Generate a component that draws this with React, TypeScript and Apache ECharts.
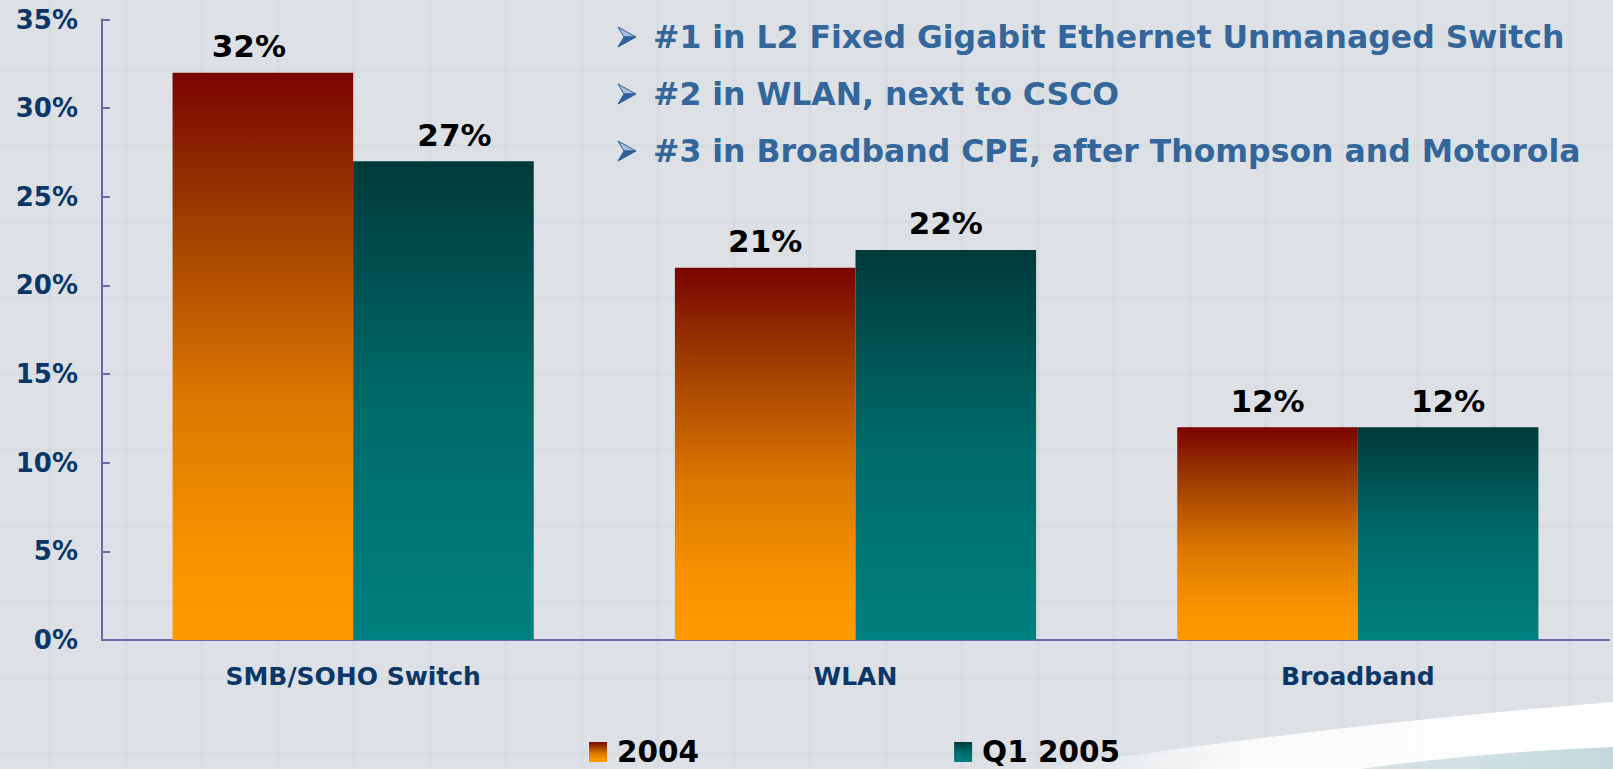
import React, { useEffect, useRef } from "react";
import * as echarts from "echarts";

const categories = ["SMB/SOHO Switch", "WLAN", "Broadband"];
const share2004 = [32, 21, 12];
const shareQ12005 = [27, 22, 12];
const seriesNames = ["2004", "Q1 2005"];
const notes = [
  "#1 in L2 Fixed Gigabit Ethernet Unmanaged Switch",
  "#2 in WLAN, next to CSCO",
  "#3 in Broadband CPE, after Thompson and Motorola",
];

const FONT = '"DejaVu Sans", Verdana, sans-serif';

echarts.graphic.registerShape(
  "swooshWhite",
  echarts.graphic.extendPath("M1040 769 Q1300 728 1613 702 L1613 747 Q1480 752 1360 769 Z", {})
);
echarts.graphic.registerShape(
  "swooshBlue",
  echarts.graphic.extendPath("M1360 769 Q1480 752 1613 747 L1613 769 Z", {})
);

function buildGraphic() {
  const els: any[] = [];
  for (let x = -26; x < 1613; x += 76) {
    els.push({
      type: "line",
      silent: true,
      z: -10,
      shape: { x1: x, y1: 0, x2: x, y2: 769 },
      style: { stroke: "rgba(110,120,130,0.05)", lineWidth: 3 },
    });
  }
  for (let y = -6; y < 769; y += 76) {
    els.push({
      type: "line",
      silent: true,
      z: -10,
      shape: { x1: 0, y1: y, x2: 1613, y2: y },
      style: { stroke: "rgba(110,120,130,0.045)", lineWidth: 3 },
    });
  }
  els.push({
    type: "swooshBlue",
    silent: true,
    z: -5,
    style: {
      fill: {
        type: "linear",
        x: 0,
        y: 0,
        x2: 1,
        y2: 0,
        colorStops: [
          { offset: 0, color: "rgba(205,222,226,0.3)" },
          { offset: 0.5, color: "#cfe0e4" },
          { offset: 1, color: "#c4d9de" },
        ],
      },
    },
  });
  els.push({
    type: "swooshWhite",
    silent: true,
    z: -5,
    style: {
      fill: {
        type: "linear",
        x: 0,
        y: 0,
        x2: 1,
        y2: 0,
        colorStops: [
          { offset: 0, color: "rgba(255,255,255,0)" },
          { offset: 0.35, color: "rgba(255,255,255,0.85)" },
          { offset: 1, color: "#ffffff" },
        ],
      },
    },
  });
  const lineY = [37, 94, 151];
  notes.forEach((t, i) => {
    const cy = lineY[i];
    els.push({
      type: "polygon",
      silent: true,
      shape: { points: [[618, cy - 10], [636, cy], [624, cy]] },
      style: { fill: "#a8bedb", stroke: "#2f5f98", lineWidth: 1 },
    });
    els.push({
      type: "polygon",
      silent: true,
      shape: { points: [[624, cy], [636, cy], [618, cy + 10]] },
      style: { fill: "#2f5f98", stroke: "#2f5f98", lineWidth: 1 },
    });
    els.push({
      type: "text",
      silent: true,
      x: 653,
      y: cy,
      style: {
        text: t,
        fontFamily: FONT,
        fontWeight: "bold",
        fontSize: 31.5,
        fill: "#33669a",
        verticalAlign: "middle",
        align: "left",
      },
    });
  });
  return els;
}

const grad2004 = new echarts.graphic.LinearGradient(0, 0, 0, 1, [
  { offset: 0, color: "#7a0300" },
  { offset: 0.22, color: "#993600" },
  { offset: 0.58, color: "#dd7800" },
  { offset: 0.85, color: "#f89400" },
  { offset: 1, color: "#ff9a00" },
]);
const gradQ1 = new echarts.graphic.LinearGradient(0, 0, 0, 1, [
  { offset: 0, color: "#003a3a" },
  { offset: 0.5, color: "#006a6a" },
  { offset: 1, color: "#008080" },
]);

const barLabel = {
  show: true,
  position: "top",
  distance: 11,
  formatter: "{c}%",
  fontFamily: FONT,
  fontWeight: "bold",
  fontSize: 31,
  color: "#000",
};

export default function App() {
  const ref = useRef<HTMLDivElement>(null);
  useEffect(() => {
    if (!ref.current) return;
    const chart = echarts.init(ref.current, undefined, { renderer: "svg" });
    const axisColor = "#6c68a8";
    const labelColor = "#0b3768";
    const data2004 = share2004.map((v, i) => (i === 0 ? { value: v, label: { offset: [-14, 0] } } : v));
    const dataQ1 = shareQ12005.map((v, i) => (i === 0 ? { value: v, label: { offset: [11, 0] } } : v));
    chart.setOption({
      animation: false,
      backgroundColor: "#dde1e5",
      textStyle: { fontFamily: FONT },
      grid: {
        left: 102,
        right: 4,
        top: 19.5,
        bottom: 129,
        containLabel: false,
        outerBoundsMode: "none",
      },
      legend: {
        left: 589,
        top: 737,
        padding: 0,
        itemWidth: 18,
        itemHeight: 20,
        itemGap: 255,
        icon: "rect",
        data: seriesNames,
        textStyle: {
          fontFamily: FONT,
          fontWeight: "bold",
          fontSize: 29.5,
          lineHeight: 30,
          color: "#000",
          padding: [0, 0, 0, 5],
        },
      },
      xAxis: {
        type: "category",
        data: categories,
        axisLine: { lineStyle: { color: axisColor, width: 2 } },
        axisTick: { inside: true, length: 8, lineStyle: { color: axisColor, width: 2 } },
        axisLabel: {
          margin: 24,
          fontFamily: FONT,
          fontWeight: "bold",
          fontSize: 25,
          color: labelColor,
        },
        splitLine: { show: false },
      },
      yAxis: {
        type: "value",
        min: 0,
        max: 35,
        interval: 5,
        axisLine: { show: true, lineStyle: { color: axisColor, width: 2 } },
        axisTick: { show: true, inside: true, length: 8, lineStyle: { color: axisColor, width: 2 } },
        axisLabel: {
          margin: 24,
          formatter: "{value}%",
          fontFamily: FONT,
          fontWeight: "bold",
          fontSize: 26,
          color: labelColor,
        },
        splitLine: { show: false },
      },
      series: [
        {
          name: seriesNames[0],
          type: "bar",
          data: data2004,
          barGap: "0%",
          barCategoryGap: "28.1%",
          itemStyle: { color: grad2004 },
          label: barLabel,
        },
        {
          name: seriesNames[1],
          type: "bar",
          data: dataQ1,
          barGap: "0%",
          barCategoryGap: "28.1%",
          itemStyle: { color: gradQ1 },
          label: barLabel,
        },
      ],
      graphic: { elements: buildGraphic() },
    });
    return () => chart.dispose();
  }, []);
  return (
    <div
      ref={ref}
      style={{ position: "fixed", left: 0, top: 0, width: 1613, height: 769 }}
    />
  );
}
